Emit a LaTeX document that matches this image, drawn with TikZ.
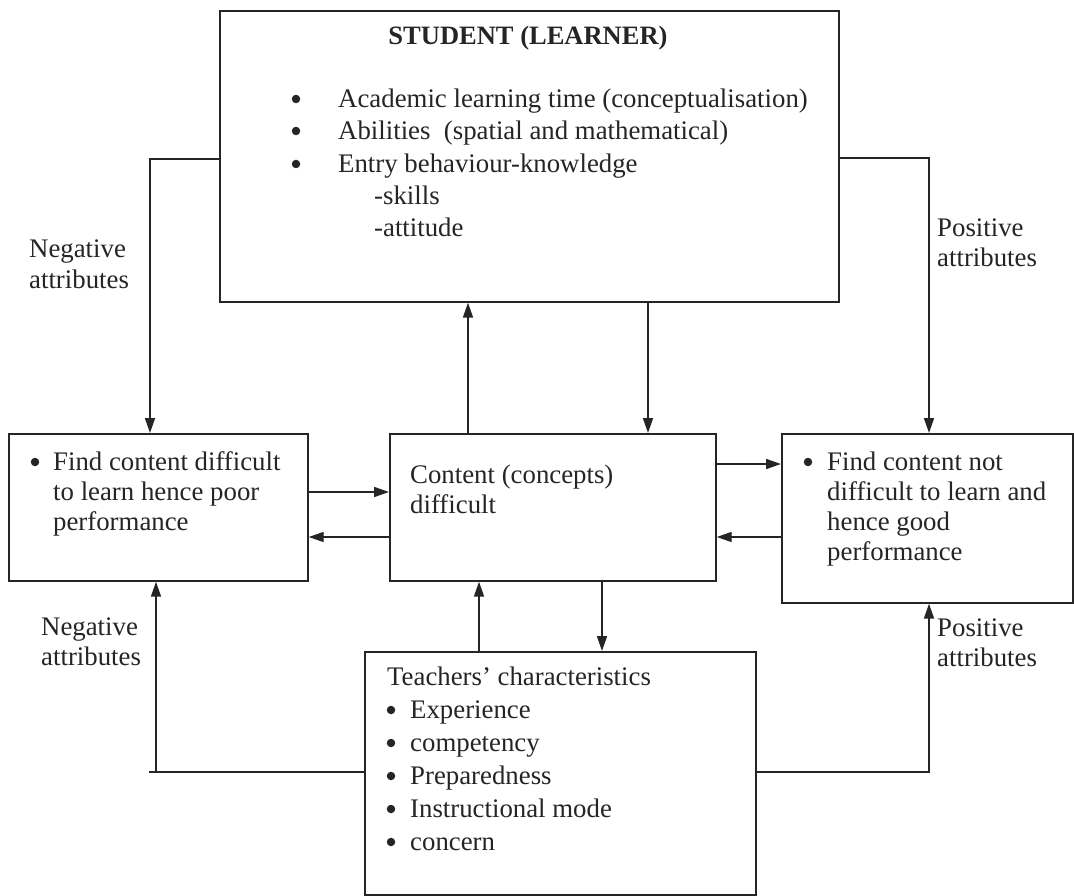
\documentclass[tikz,border=0pt]{standalone}
\usepackage{fontspec}
\setmainfont{Liberation Serif}
\usetikzlibrary{arrows.meta}
\definecolor{ink}{HTML}{252525}
\begin{document}
\begin{tikzpicture}[x=1pt,y=-1pt,
  box/.style={draw=ink, line width=1.7pt, rectangle, inner sep=0pt, anchor=north west},
  txt/.style={anchor=base west, inner sep=0pt, text=ink, font=\fontsize{26.8}{30}\selectfont},
  bul/.style={circle, fill=ink, inner sep=0pt, minimum size=8.5pt},
  conn/.style={draw=ink, line width=1.7pt},
  arr/.style={conn, -{Triangle[length=15pt,width=10pt]}}
]
\useasboundingbox[fill=white] (0,0) rectangle (1074,896);

% boxes
\node[box, minimum width=619pt, minimum height=291pt] (student) at (219,10) {};
\node[box, minimum width=299pt, minimum height=147pt] (left) at (8,433) {};
\node[box, minimum width=326pt, minimum height=147pt] (center) at (389,433) {};
\node[box, minimum width=291pt, minimum height=169pt] (right) at (781,433) {};
\node[box, minimum width=391pt, minimum height=243pt] (teacher) at (364,651) {};

% student text
\node[txt, anchor=base, font=\fontsize{26.5}{30}\selectfont\bfseries] (stitle) at (528,45) {STUDENT (LEARNER)};
\node[bul] (sb1) at (296,99) {};
\node[bul] (sb2) at (296,131) {};
\node[bul] (sb3) at (296,164) {};
\node[txt] (st1) at (338,108) {Academic learning time (conceptualisation)};
\node[txt] (st2) at (338,140) {Abilities\ \ (spatial and mathematical)};
\node[txt] (st3) at (338,173) {Entry behaviour-knowledge};
\node[txt] (st4) at (374,205) {-skills};
\node[txt] (st5) at (374,237) {-attitude};

% left text
\node[bul] (lb1) at (35,462) {};
\node[txt] (lt1) at (53,470) {Find content difficult};
\node[txt] (lt2) at (53,500) {to learn hence poor};
\node[txt] (lt3) at (53,530) {performance};

% center text
\node[txt] (ct1) at (410,483) {Content (concepts)};
\node[txt] (ct2) at (410,513) {difficult};

% right text
\node[bul] (rb1) at (808,462) {};
\node[txt] (rt1) at (827,470) {Find content not};
\node[txt] (rt2) at (827,500) {difficult to learn and};
\node[txt] (rt3) at (827,530) {hence good};
\node[txt] (rt4) at (827,560) {performance};

% teacher text
\node[txt] (tt0) at (387,685) {Teachers’ characteristics};
\node[bul] (tb1) at (391,710) {};
\node[bul] (tb2) at (391,743) {};
\node[bul] (tb3) at (391,776) {};
\node[bul] (tb4) at (391,809) {};
\node[bul] (tb5) at (391,842) {};
\node[txt] (tt1) at (410,718) {Experience};
\node[txt] (tt2) at (410,751) {competency};
\node[txt] (tt3) at (410,784) {Preparedness};
\node[txt] (tt4) at (410,817) {Instructional mode};
\node[txt] (tt5) at (410,850) {concern};

% labels
\node[txt] (nl1) at (29,258) {Negative};
\node[txt] (nl2) at (29,288) {attributes};
\node[txt] (pl1) at (937,237) {Positive};
\node[txt] (pl2) at (937,266) {attributes};
\node[txt] (nl3) at (41,635) {Negative};
\node[txt] (nl4) at (41,665) {attributes};
\node[txt] (pl3) at (937,636) {Positive};
\node[txt] (pl4) at (937,666) {attributes};

% helper coordinates
\coordinate (c1) at (150,159);
\coordinate (c2) at (929,158);
\coordinate (c3) at (468,0);
\coordinate (c4) at (648,0);
\coordinate (c5) at (0,492);
\coordinate (c6) at (0,537);
\coordinate (c7) at (0,464);
\coordinate (c8) at (479,0);
\coordinate (c9) at (602,0);
\coordinate (c10) at (156,772);
\coordinate (c11) at (929,772);
\coordinate (c12) at (149,772);

% connectors
\draw[arr] (student.west |- c1) -| (left.north -| c1);
\draw[arr] (student.east |- c2) -| (right.north -| c2);
\draw[arr] (center.north -| c3) -- (student.south -| c3);
\draw[arr] (student.south -| c4) -- (center.north -| c4);
\draw[arr] (left.east |- c5) -- (center.west |- c5);
\draw[arr] (center.west |- c6) -- (left.east |- c6);
\draw[arr] (center.east |- c7) -- (right.west |- c7);
\draw[arr] (right.west |- c6) -- (center.east |- c6);
\draw[arr] (teacher.north -| c8) -- (center.south -| c8);
\draw[arr] (center.south -| c9) -- (teacher.north -| c9);
\draw[conn] (teacher.west |- c12) -- (c12);
\draw[arr] (c10) -- (left.south -| c10);
\draw[arr] (teacher.east |- c11) -- (c11) -- (right.south -| c11);
\end{tikzpicture}
\end{document}
